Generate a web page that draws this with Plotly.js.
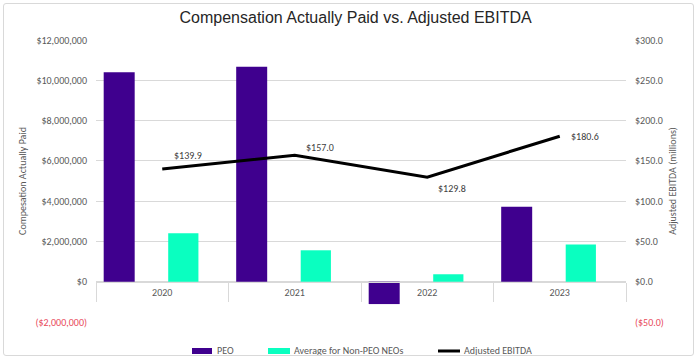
<!DOCTYPE html>
<html>
<head>
<meta charset="utf-8">
<script src="https://cdn.plot.ly/plotly-3.0.1.min.js"></script>
<style>
  html, body { margin: 0; padding: 0; background: #fff; }
  #wrap { position: relative; width: 700px; height: 361px; }
  #chart { width: 700px; height: 361px; }
  #frame { position: absolute; left: 3px; top: 3px; width: 691px; height: 353px;
           border: 1px solid #d9d9d9; border-radius: 3px; pointer-events: none; box-sizing: border-box; }
</style>
</head>
<body>
<div id="wrap"><div id="chart"></div><div id="frame"></div></div>
<script>
// ---- data ----
const years = ['2020', '2021', '2022', '2023'];
const peoCAP = [10400000, 10670000, -1110000, 3720000];
const neoCAP = [2400000, 1560000, 370000, 1850000];
const adjEBITDA = [139.9, 157.0, 129.8, 180.6];
const ebitdaLabels = ['$139.9', '$157.0', '$129.8', '$180.6'];
const seriesNames = ['PEO', 'Average for Non-PEO NEOs', 'Adjusted EBITDA'];
const leftTickVals = [-2000000, 0, 2000000, 4000000, 6000000, 8000000, 10000000, 12000000];
const leftTickText = ['($2,000,000)', '$0', '$2,000,000', '$4,000,000', '$6,000,000', '$8,000,000', '$10,000,000', '$12,000,000'];
const rightTickVals = [-50, 0, 50, 100, 150, 200, 250, 300];
const rightTickText = ['($50.0)', '$0.0', '$50.0', '$100.0', '$150.0', '$200.0', '$250.0', '$300.0'];

// ---- style ----
const FONT = "Calibri, Carlito, 'Liberation Sans Narrow', 'Liberation Sans', Arial, sans-serif";
const GRAY = '#595959';
const GRID = '#d9d9d9';
const RED = '#e8495a';
const PEO_C = '#3f008e';
const NEO_C = '#0affc0';
const labelShiftX = [10, 9, 9, 9];
const labelShiftY = [13, 8, -11, 0];
const colorNeg = (vals, texts) => texts.map((t, i) => vals[i] < 0 ? '<span style="color:' + RED + '">' + t + '</span>' : t);

const traces = [
  { type: 'bar', name: seriesNames[0], x: years, y: peoCAP, marker: { color: PEO_C },
    offset: -0.442, width: 0.234, yaxis: 'y', hoverinfo: 'none' },
  { type: 'bar', name: seriesNames[1], x: years, y: neoCAP, marker: { color: NEO_C },
    offset: 0.045, width: 0.228, yaxis: 'y', hoverinfo: 'none' },
  { type: 'scatter', mode: 'lines', name: seriesNames[2], x: years, y: adjEBITDA, yaxis: 'y2',
    line: { color: '#000000', width: 3 }, hoverinfo: 'none' }
];

// data labels for the line (x given as category index)
const annotations = adjEBITDA.map((v, i) => ({
  xref: 'x', yref: 'y2', x: i, y: v, text: ebitdaLabels[i], showarrow: false,
  xanchor: 'left', yanchor: 'middle', xshift: labelShiftX[i], yshift: labelShiftY[i],
  font: { family: FONT, size: 10, color: '#404040' }
}));

// legend drawn manually (Excel style wide swatches)
const lgY = -0.1028;
const shapes = [
  { type: 'rect', xref: 'paper', yref: 'paper', x0: 0.1811, x1: 0.2189, y0: -0.1135, y1: -0.0922, fillcolor: PEO_C, line: { width: 0 } },
  { type: 'rect', xref: 'paper', yref: 'paper', x0: 0.3245, x1: 0.366, y0: -0.1135, y1: -0.0922, fillcolor: NEO_C, line: { width: 0 } },
  { type: 'line', xref: 'paper', yref: 'paper', x0: 0.6453, x1: 0.6868, y0: lgY, y1: lgY, line: { color: '#000', width: 3 } }
];
const lgX = [0.2245, 0.3698, 0.6906];
seriesNames.forEach((n, i) => annotations.push({
  xref: 'paper', yref: 'paper', x: lgX[i], y: lgY, text: n, showarrow: false,
  xanchor: 'left', yanchor: 'middle', font: { family: FONT, size: 10, color: GRAY }
}));

const layout = {
  width: 700, height: 361,
  margin: { l: 96, r: 74, t: 40, b: 39 },
  paper_bgcolor: '#ffffff', plot_bgcolor: '#ffffff',
  font: { family: FONT, size: 10, color: GRAY },
  title: { text: 'Compensation Actually Paid vs. Adjusted EBITDA', x: 0.508, xanchor: 'center',
           xref: 'container', y: 0.953, yanchor: 'middle',
           font: { family: "'Liberation Sans', Arial, sans-serif", size: 16, color: '#262626' } },
  showlegend: false,
  barmode: 'overlay',
  xaxis: {
    type: 'category', categoryorder: 'array', categoryarray: years, range: [-0.5, 3.5], autorange: false,
    anchor: 'free', position: 0.1429,
    showline: true, linecolor: GRID, linewidth: 1,
    ticks: 'outside', tickson: 'boundaries', ticklen: 19, tickcolor: GRID, tickwidth: 1,
    ticklabelstandoff: 1,
    tickfont: { family: FONT, size: 10, color: GRAY },
    showgrid: false, zeroline: false, fixedrange: true
  },
  yaxis: {
    range: [-2000000, 12000000], tickvals: leftTickVals, ticktext: colorNeg(leftTickVals, leftTickText),
    showgrid: true, gridcolor: GRID, gridwidth: 1, zeroline: false, showline: false,
    ticks: '', ticklabelstandoff: 8,
    tickfont: { family: FONT, size: 10, color: GRAY },
    title: { text: 'Compesation Actually Paid', standoff: 6, font: { family: FONT, size: 10, color: GRAY } }
  },
  yaxis2: {
    overlaying: 'y', side: 'right', range: [-50, 300],
    tickvals: rightTickVals, ticktext: colorNeg(rightTickVals, rightTickText),
    showgrid: false, zeroline: false, showline: false, ticks: '', ticklabelstandoff: 8,
    tickfont: { family: FONT, size: 10, color: GRAY },
    title: { text: 'Adjusted EBITDA (millions)', standoff: 6, font: { family: FONT, size: 10, color: GRAY } }
  },
  shapes: shapes,
  annotations: annotations
};

Plotly.newPlot('chart', traces, layout, { displayModeBar: false, staticPlot: true });
</script>
</body>
</html>
